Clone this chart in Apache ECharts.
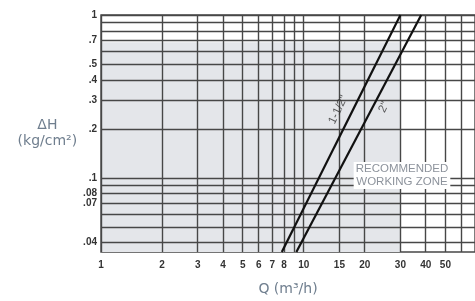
<!DOCTYPE html>
<html>
<head>
<meta charset="utf-8">
<script src="https://cdn.jsdelivr.net/npm/echarts@6/dist/echarts.min.js"></script>
<style>
html, body { margin: 0; padding: 0; background: #fff; }
#chart { width: 475px; height: 301px; }
</style>
</head>
<body>
<div id="chart"></div>
<script>
// 流量 Q (m3/h) 网格与刻度
var qGrid = [1, 2, 3, 4, 5, 6, 7, 8, 9, 10, 15, 20, 30, 40, 50, 60];
var qLabels = [1, 2, 3, 4, 5, 6, 7, 8, 10, 15, 20, 30, 40, 50];
// 压降 ΔH (kg/cm2) 网格与刻度
var hGrid = [1, 0.9, 0.8, 0.7, 0.6, 0.5, 0.4, 0.3, 0.2, 0.1, 0.09, 0.08, 0.07, 0.06, 0.05, 0.04];
var hLabels = [1, 0.7, 0.5, 0.4, 0.3, 0.2, 0.1, 0.08, 0.07, 0.04];
// 两种口径的曲线 [Q, ΔH]
var pipe15 = [[7.8, 0.035], [30, 1]];
var pipe20 = [[9.2, 0.035], [38, 1]];
// 灰色区域 (左下角, 右上角)
var greyZone = [[1, 0.035], [30, 0.68]];

var chart = echarts.init(document.getElementById('chart'));

function fmtH(v) {
    return v >= 1 ? String(v) : String(v).replace(/^0/, '');
}

var gridLine = { show: true, lineStyle: { color: '#474747', width: 1.4 } };

var option = {
    animation: false,
    grid: {
        left: 101, top: 15, right: -5, bottom: 45,
        show: true, borderColor: '#474747', borderWidth: 1.4
    },
    xAxis: {
        type: 'log', min: 1, max: 70, z: 3,
        axisLine: { show: false },
        axisTick: { show: false, customValues: qGrid },
        splitLine: gridLine,
        axisLabel: {
            customValues: qLabels, margin: 8,
            fontSize: 10, fontWeight: 'bold', color: '#333',
            fontFamily: 'Liberation Sans'
        },
        name: 'Q (m³/h)', nameLocation: 'middle', nameGap: 30,
        nameTextStyle: { color: '#6f7e8e', fontSize: 14, fontFamily: 'DejaVu Sans' }
    },
    yAxis: {
        type: 'log', min: 0.035, max: 1, z: 3,
        axisLine: { show: false },
        axisTick: { show: false, customValues: hGrid },
        splitLine: gridLine,
        axisLabel: {
            customValues: hLabels, margin: 4,
            fontSize: 10, fontWeight: 'bold', color: '#333',
            fontFamily: 'Liberation Sans',
            formatter: fmtH
        },
        name: 'ΔH\n(kg/cm²)', nameLocation: 'middle', nameRotate: 0, nameGap: 46,
        nameTextStyle: {
            color: '#6f7e8e', fontSize: 14, lineHeight: 16,
            align: 'center', verticalAlign: 'middle', fontFamily: 'DejaVu Sans',
            padding: [9, 0, 0, 0]
        }
    },
    series: [
        {
            type: 'line', data: [], z: 1,
            markArea: {
                silent: true, z: 1,
                itemStyle: { color: '#e4e6ea' },
                data: [[{ coord: greyZone[0] }, { coord: greyZone[1] }]]
            }
        },
        {
            name: '1-1/2"', type: 'line', data: pipe15, z: 4,
            symbol: 'none', lineStyle: { color: '#111', width: 2.2 }
        },
        {
            name: '2"', type: 'line', data: pipe20, z: 4,
            symbol: 'none', lineStyle: { color: '#111', width: 2.2 }
        },
        {
            type: 'scatter', z: 5, symbolSize: 0, silent: true,
            data: [
                { value: [14.8, 0.262], label: { formatter: '1-1/2"' } },
                { value: [24.9, 0.272], label: { formatter: '2"' } }
            ],
            label: {
                show: true, position: 'inside', rotate: 64,
                fontSize: 11.5, color: '#333', fontFamily: 'Liberation Sans'
            }
        }
    ],
    graphic: [
        {
            type: 'text', x: 402, y: 162, z: 100,
            style: {
                text: 'RECOMMENDED\nWORKING ZONE',
                align: 'center', verticalAlign: 'top',
                font: '11.5px "Liberation Sans"', lineHeight: 12.5,
                fill: '#8d939c', backgroundColor: '#fff', padding: [1, 2]
            }
        }
    ]
};

chart.setOption(option);
</script>
</body>
</html>
